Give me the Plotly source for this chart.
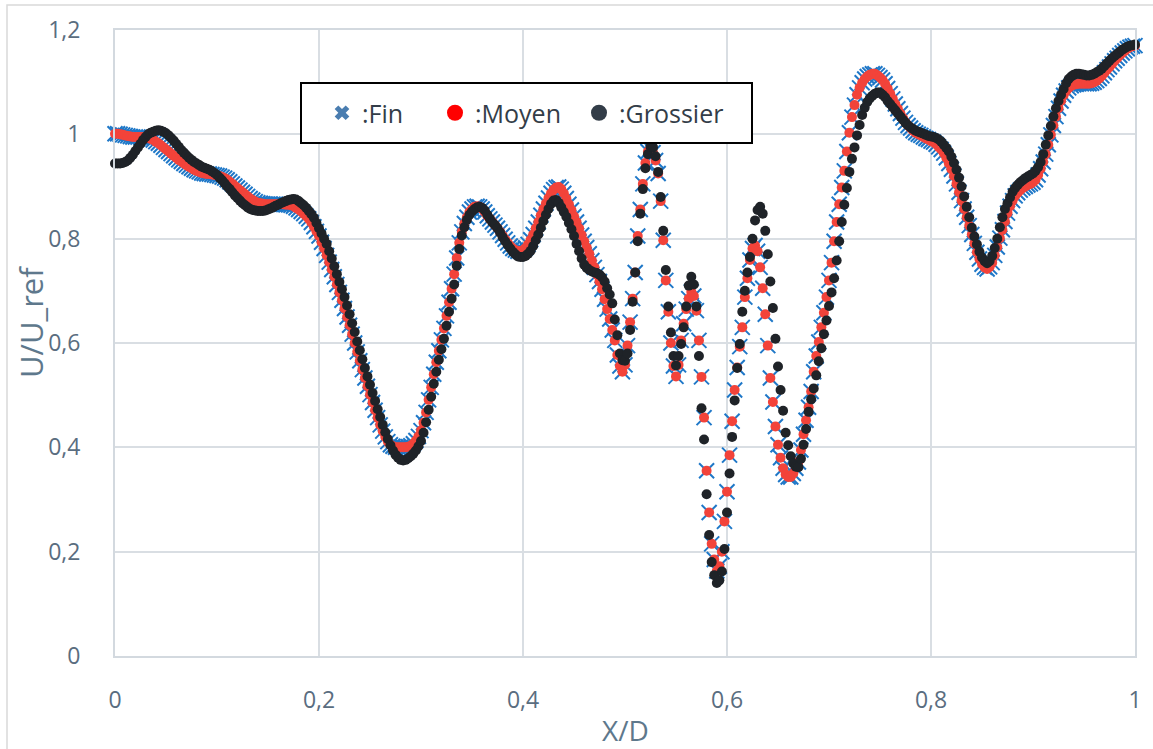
import numpy as np
import plotly.graph_objects as go

# ---------------- data ----------------
x_tick_vals = [0, 0.2, 0.4, 0.6, 0.8, 1.0]
x_tick_text = ["0", "0,2", "0,4", "0,6", "0,8", "1"]
y_tick_vals = [0, 0.2, 0.4, 0.6, 0.8, 1.0, 1.2]
y_tick_text = ["0", "0,2", "0,4", "0,6", "0,8", "1", "1,2"]

# sampling positions X/D (step 0.0025 from 0 to 1)
x_d = np.round(np.arange(401) * 0.0025, 4)

# U/U_ref, fine mesh (":Fin") -- same curve as medium mesh at this reading precision
fin_u = [
    1.001, 1.001, 1.000, 0.999, 0.998, 0.997, 0.996, 0.995, 0.995, 0.995, 0.995, 0.995, 0.994, 0.993, 0.991, 0.989, 0.986, 0.983, 0.979, 0.975,
    0.971, 0.967, 0.963, 0.959, 0.955, 0.951, 0.948, 0.944, 0.941, 0.938, 0.935, 0.932, 0.930, 0.928, 0.926, 0.925, 0.924, 0.924, 0.923, 0.922,
    0.921, 0.920, 0.918, 0.916, 0.913, 0.909, 0.905, 0.901, 0.897, 0.893, 0.889, 0.885, 0.881, 0.877, 0.874, 0.871, 0.869, 0.868, 0.867, 0.866,
    0.866, 0.866, 0.866, 0.866, 0.866, 0.866, 0.866, 0.865, 0.865, 0.864, 0.862, 0.859, 0.856, 0.852, 0.848, 0.843, 0.838, 0.831, 0.823, 0.814,
    0.805, 0.793, 0.781, 0.768, 0.755, 0.741, 0.727, 0.712, 0.697, 0.682, 0.666, 0.650, 0.634, 0.617, 0.600, 0.583, 0.566, 0.549, 0.533, 0.517,
    0.501, 0.486, 0.471, 0.457, 0.443, 0.431, 0.420, 0.411, 0.405, 0.402, 0.400, 0.400, 0.400, 0.400, 0.400, 0.401, 0.403, 0.407, 0.413, 0.421,
    0.432, 0.447, 0.467, 0.491, 0.515, 0.540, 0.563, 0.585, 0.606, 0.628, 0.652, 0.678, 0.704, 0.732, 0.763, 0.792, 0.813, 0.829, 0.841, 0.851,
    0.857, 0.861, 0.862, 0.861, 0.857, 0.851, 0.844, 0.838, 0.832, 0.826, 0.820, 0.813, 0.806, 0.799, 0.792, 0.786, 0.781, 0.778, 0.776, 0.776,
    0.778, 0.782, 0.789, 0.798, 0.808, 0.820, 0.832, 0.845, 0.857, 0.868, 0.878, 0.887, 0.894, 0.898, 0.899, 0.895, 0.887, 0.877, 0.866, 0.855,
    0.843, 0.832, 0.820, 0.807, 0.795, 0.783, 0.771, 0.758, 0.745, 0.731, 0.718, 0.703, 0.684, 0.665, 0.646, 0.625, 0.605, 0.577, 0.556, 0.545,
    0.558, 0.595, 0.640, 0.685, 0.735, 0.805, 0.856, 0.905, 0.945, 0.967, 0.972, 0.965, 0.950, 0.925, 0.872, 0.797, 0.720, 0.660, 0.600, 0.556,
    0.536, 0.558, 0.605, 0.637, 0.665, 0.685, 0.698, 0.690, 0.662, 0.605, 0.535, 0.457, 0.355, 0.275, 0.215, 0.185, 0.163, 0.172, 0.200, 0.258,
    0.315, 0.385, 0.450, 0.510, 0.553, 0.593, 0.630, 0.688, 0.724, 0.759, 0.781, 0.787, 0.776, 0.745, 0.705, 0.655, 0.595, 0.533, 0.487, 0.440,
    0.405, 0.380, 0.360, 0.348, 0.343, 0.343, 0.350, 0.360, 0.372, 0.395, 0.425, 0.452, 0.477, 0.507, 0.545, 0.575, 0.602, 0.630, 0.658, 0.688,
    0.720, 0.754, 0.795, 0.832, 0.866, 0.898, 0.930, 0.967, 1.003, 1.033, 1.056, 1.076, 1.089, 1.099, 1.106, 1.111, 1.114, 1.116, 1.116, 1.113,
    1.109, 1.104, 1.097, 1.088, 1.078, 1.068, 1.058, 1.049, 1.040, 1.031, 1.023, 1.017, 1.012, 1.007, 1.003, 1.000, 0.998, 0.995, 0.992, 0.990,
    0.987, 0.985, 0.981, 0.976, 0.971, 0.964, 0.955, 0.944, 0.933, 0.920, 0.905, 0.889, 0.873, 0.857, 0.841, 0.825, 0.808, 0.791, 0.774, 0.761,
    0.751, 0.745, 0.742, 0.746, 0.754, 0.768, 0.784, 0.801, 0.817, 0.833, 0.849, 0.862, 0.873, 0.882, 0.888, 0.893, 0.897, 0.900, 0.903, 0.905,
    0.908, 0.913, 0.922, 0.934, 0.947, 0.962, 0.980, 0.999, 1.017, 1.034, 1.050, 1.064, 1.075, 1.083, 1.089, 1.093, 1.095, 1.096, 1.097, 1.097,
    1.097, 1.097, 1.097, 1.098, 1.100, 1.103, 1.107, 1.112, 1.118, 1.124, 1.129, 1.135, 1.141, 1.146, 1.151, 1.156, 1.160, 1.164, 1.167, 1.169,
    1.170,
]

# medium mesh (":Moyen") -- indistinguishable from the fine mesh in the picture
moyen_u = list(fin_u)

# coarse mesh (":Grossier")
grossier_u = [
    0.944, 0.944, 0.944, 0.945, 0.947, 0.950, 0.955, 0.961, 0.968, 0.975, 0.982, 0.989, 0.995, 1.000, 1.003, 1.005, 1.007, 1.008, 1.007, 1.005,
    1.002, 0.998, 0.993, 0.988, 0.982, 0.976, 0.970, 0.965, 0.960, 0.955, 0.951, 0.947, 0.944, 0.941, 0.938, 0.936, 0.934, 0.932, 0.929, 0.926,
    0.922, 0.917, 0.912, 0.906, 0.900, 0.895, 0.889, 0.883, 0.878, 0.873, 0.868, 0.864, 0.860, 0.857, 0.855, 0.854, 0.853, 0.853, 0.853, 0.854,
    0.856, 0.858, 0.860, 0.863, 0.865, 0.868, 0.870, 0.872, 0.874, 0.875, 0.876, 0.875, 0.872, 0.868, 0.864, 0.859, 0.853, 0.847, 0.840, 0.830,
    0.820, 0.810, 0.800, 0.790, 0.776, 0.762, 0.747, 0.732, 0.717, 0.703, 0.688, 0.672, 0.655, 0.638, 0.621, 0.603, 0.586, 0.569, 0.552, 0.536,
    0.520, 0.504, 0.489, 0.473, 0.458, 0.443, 0.429, 0.416, 0.404, 0.394, 0.386, 0.380, 0.376, 0.375, 0.376, 0.379, 0.383, 0.388, 0.394, 0.402,
    0.412, 0.428, 0.448, 0.472, 0.497, 0.522, 0.545, 0.568, 0.588, 0.608, 0.633, 0.660, 0.685, 0.712, 0.748, 0.780, 0.806, 0.822, 0.836, 0.846,
    0.852, 0.857, 0.860, 0.861, 0.859, 0.854, 0.846, 0.838, 0.831, 0.826, 0.820, 0.812, 0.803, 0.795, 0.788, 0.781, 0.775, 0.770, 0.766, 0.765,
    0.765, 0.767, 0.771, 0.777, 0.786, 0.797, 0.808, 0.821, 0.834, 0.846, 0.857, 0.867, 0.873, 0.874, 0.869, 0.860, 0.851, 0.842, 0.830, 0.818,
    0.805, 0.790, 0.776, 0.762, 0.750, 0.744, 0.740, 0.737, 0.735, 0.734, 0.731, 0.726, 0.718, 0.705, 0.693, 0.676, 0.645, 0.615, 0.580, 0.567,
    0.566, 0.580, 0.625, 0.679, 0.735, 0.795, 0.848, 0.895, 0.935, 0.962, 0.976, 0.975, 0.958, 0.928, 0.880, 0.815, 0.740, 0.670, 0.620, 0.575,
    0.557, 0.575, 0.598, 0.630, 0.670, 0.710, 0.727, 0.712, 0.670, 0.575, 0.475, 0.415, 0.310, 0.232, 0.180, 0.155, 0.140, 0.145, 0.162, 0.205,
    0.275, 0.350, 0.420, 0.490, 0.552, 0.598, 0.660, 0.700, 0.735, 0.765, 0.800, 0.835, 0.855, 0.861, 0.848, 0.815, 0.770, 0.718, 0.667, 0.608,
    0.555, 0.510, 0.470, 0.428, 0.404, 0.383, 0.369, 0.363, 0.362, 0.378, 0.405, 0.435, 0.468, 0.492, 0.513, 0.538, 0.565, 0.590, 0.617, 0.643,
    0.671, 0.697, 0.724, 0.758, 0.795, 0.832, 0.865, 0.897, 0.928, 0.953, 0.975, 0.998, 1.018, 1.037, 1.051, 1.062, 1.069, 1.074, 1.078, 1.080,
    1.080, 1.076, 1.071, 1.064, 1.058, 1.052, 1.046, 1.040, 1.034, 1.028, 1.022, 1.017, 1.013, 1.010, 1.007, 1.005, 1.003, 1.001, 0.999, 0.997,
    0.996, 0.995, 0.993, 0.990, 0.986, 0.980, 0.974, 0.967, 0.957, 0.945, 0.932, 0.917, 0.900, 0.881, 0.861, 0.841, 0.821, 0.804, 0.789, 0.775,
    0.764, 0.757, 0.753, 0.757, 0.767, 0.782, 0.800, 0.822, 0.841, 0.857, 0.868, 0.879, 0.890, 0.897, 0.903, 0.908, 0.912, 0.916, 0.919, 0.922,
    0.925, 0.930, 0.937, 0.947, 0.962, 0.980, 0.998, 1.016, 1.034, 1.050, 1.064, 1.076, 1.087, 1.098, 1.106, 1.111, 1.114, 1.116, 1.116, 1.115,
    1.114, 1.113, 1.113, 1.114, 1.116, 1.119, 1.122, 1.126, 1.131, 1.136, 1.141, 1.146, 1.150, 1.154, 1.158, 1.162, 1.165, 1.168, 1.170, 1.171,
    1.172,
]

series_names = [":Fin", ":Moyen", ":Grossier"]

# ---------------- figure ----------------
W, H = 1153, 749
ML, MR, MT, MB = 115, 18, 30, 93
PW, PH = W - ML - MR, H - MT - MB


def px_x(p):
    return (p - ML) / PW


def px_y(p):
    return (H - MB - p) / PH


FONT = "Open Sans, Noto Sans, Liberation Sans, sans-serif"
GRID = "#d9dee3"
TICK_COL = "#5a6d80"
TITLE_COL = "#5e788c"

fig = go.Figure()

fig.add_trace(go.Scatter(
    x=x_d, y=fin_u, mode="markers", name=series_names[0], showlegend=False,
    cliponaxis=False,
    marker=dict(symbol="x-thin", size=15, color="#1f78c8",
                line=dict(width=2, color="#1f78c8")),
))
fig.add_trace(go.Scatter(
    x=x_d, y=moyen_u, mode="markers", name=series_names[1], showlegend=False,
    cliponaxis=False,
    marker=dict(symbol="circle", size=10, color="#f2433a", line=dict(width=0)),
))
fig.add_trace(go.Scatter(
    x=x_d, y=grossier_u, mode="markers", name=series_names[2], showlegend=False,
    cliponaxis=False,
    marker=dict(symbol="circle", size=10, color="#1f2328", line=dict(width=0)),
))

# legend keys (drawn larger than the plot markers, as in the reference);
# each entry gets its own legend so it can sit where the reference puts it
legend_styles = [
    dict(symbol="x", size=13, color="#4a7db0", line=dict(width=0)),
    dict(symbol="circle", size=16, color="#ff0000", line=dict(width=0)),
    dict(symbol="circle", size=16, color="#333d48", line=dict(width=0)),
]
legend_ids = ["legend", "legend2", "legend3"]
legend_left_px = [322, 435, 579]
for nm, mk, lid in zip(series_names, legend_styles, legend_ids):
    fig.add_trace(go.Scatter(x=[None], y=[None], mode="markers", name=nm,
                             marker=mk, showlegend=True, hoverinfo="skip",
                             legend=lid))

axis_common = dict(
    showgrid=True, gridcolor=GRID, gridwidth=2,
    showline=True, linecolor="#d3d9df", linewidth=2, mirror=True,
    zeroline=False,
    ticks="outside", tickcolor="rgba(0,0,0,0)",
    tickfont=dict(family=FONT, size=23, color=TICK_COL),
    fixedrange=True,
)

fig.update_xaxes(range=[0, 1], tickmode="array", tickvals=x_tick_vals,
                 ticktext=x_tick_text, ticklen=22, **axis_common)
fig.update_yaxes(range=[0, 1.2], tickmode="array", tickvals=y_tick_vals,
                 ticktext=y_tick_text, ticklen=28, **axis_common)

shapes = [
    # outer chart border (only its left and top sides are inside the picture)
    dict(type="rect", xref="paper", yref="paper",
         x0=px_x(7), x1=px_x(W + 20), y0=px_y(H + 20), y1=px_y(5),
         line=dict(color="#d9d9d9", width=1.5), fillcolor="rgba(0,0,0,0)",
         layer="below"),
    # legend frame
    dict(type="rect", xref="paper", yref="paper",
         x0=px_x(301), x1=px_x(752), y0=px_y(143), y1=px_y(83),
         line=dict(color="#000000", width=2), fillcolor="#ffffff",
         layer="above"),
]

annotations = [
    dict(text="X/D", xref="paper", yref="paper", x=0.5, y=px_y(730),
         xanchor="center", yanchor="middle", showarrow=False,
         font=dict(family=FONT, size=28, color=TITLE_COL)),
    dict(text="U/U_ref", xref="paper", yref="paper", x=px_x(31), y=px_y(322),
         xanchor="center", yanchor="middle", showarrow=False, textangle=-90,
         font=dict(family=FONT, size=31, color=TITLE_COL)),
]

legend_layouts = {}
for lid, lx in zip(legend_ids, legend_left_px):
    legend_layouts[lid] = dict(
        orientation="h", x=px_x(lx), y=px_y(113),
        xanchor="left", yanchor="middle",
        bgcolor="rgba(0,0,0,0)", borderwidth=0,
        font=dict(family=FONT, size=25, color="#333d48"),
        itemsizing="trace",
        itemclick=False, itemdoubleclick=False,
    )

fig.update_layout(
    width=W, height=H, autosize=False,
    margin=dict(l=ML, r=MR, t=MT, b=MB, pad=0),
    paper_bgcolor="#ffffff", plot_bgcolor="#ffffff",
    font=dict(family=FONT, color=TICK_COL),
    shapes=shapes, annotations=annotations,
    showlegend=True,
    hovermode=False,
    **legend_layouts,
)

fig.write_html("out.html")
